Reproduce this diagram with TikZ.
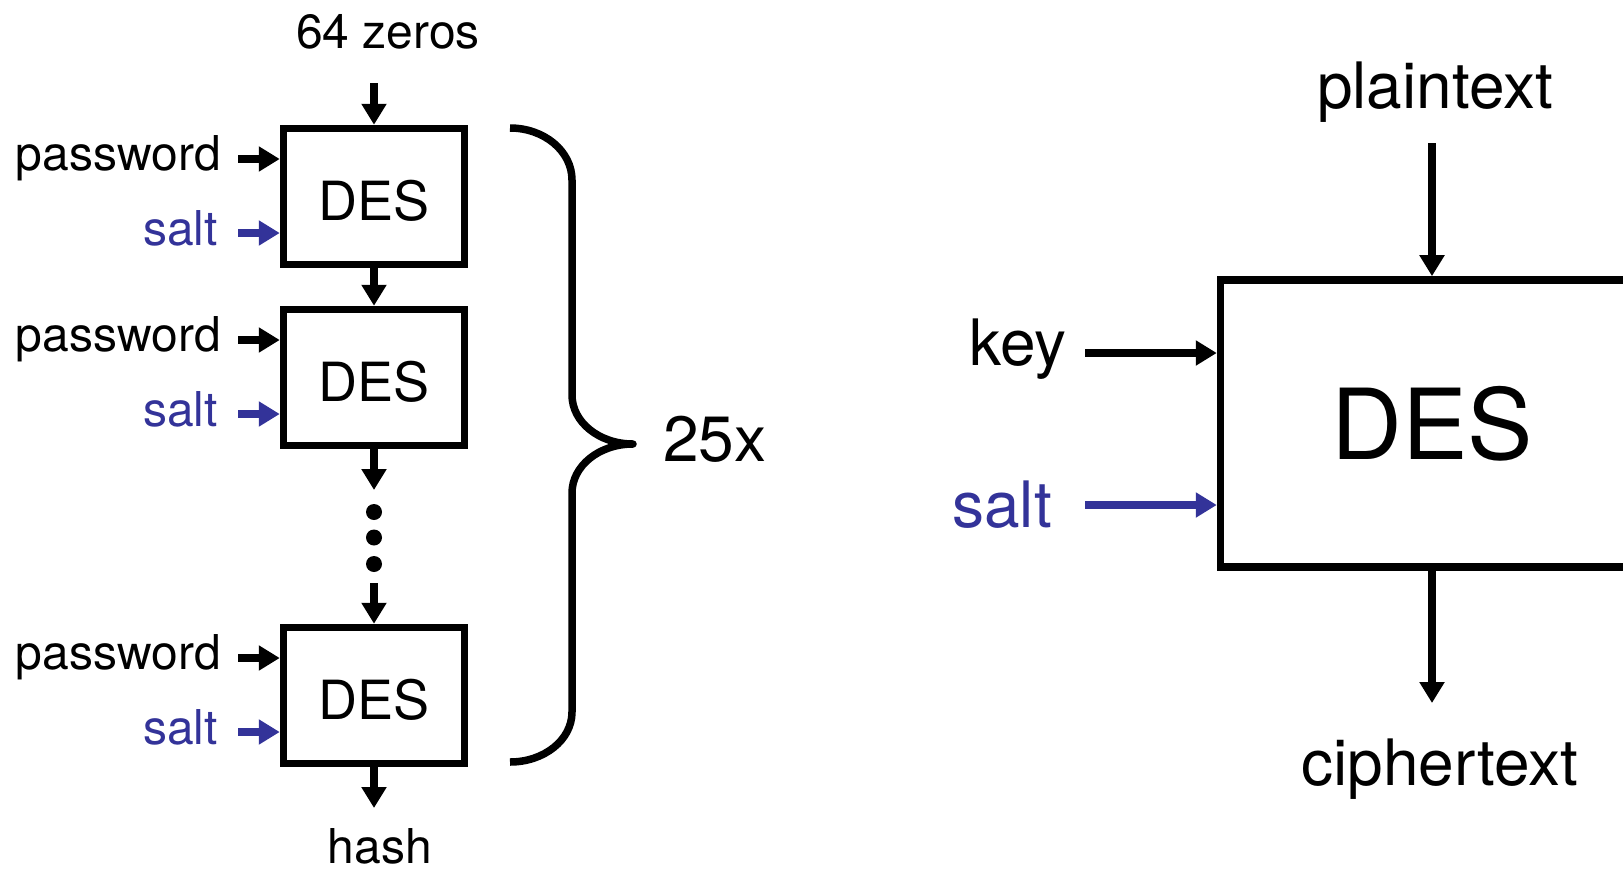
\documentclass[tikz,border=0pt]{standalone}
\usepackage{fontspec}
\setmainfont{TeX Gyre Heros}
\usetikzlibrary{arrows.meta}
\definecolor{saltblue}{RGB}{51,51,153}
\begin{document}
\begin{tikzpicture}[x=1pt,y=-1pt,
  desbox/.style={draw,line width=7.5pt,inner sep=0pt,minimum width=181pt,minimum height=136pt,
    font=\fontsize{54}{60}\selectfont,text height=49pt},
  bigbox/.style={draw,line width=7.5pt,inner sep=0pt,minimum width=423pt,minimum height=287pt,
    font=\fontsize{98}{110}\selectfont},
  lbl/.style={inner sep=0pt,font=\fontsize{48}{56}\selectfont},
  biglbl/.style={inner sep=0pt,font=\fontsize{64}{72}\selectfont},
  saltcol/.style={text=saltblue},
  arr/.style={line width=7.5pt,-{Triangle[length=21pt,width=24pt]}},
  saltarr/.style={arr,draw=saltblue},
  dotnode/.style={circle,fill=black,inner sep=0pt,minimum size=16pt},
]
\useasboundingbox (0,0) rectangle (1623,868);
\clip (0,0) rectangle (1623,868);

% left chain
\node[desbox] (b1) at (374,196.5) {DES};
\node[desbox] (b2) at (374,377.5) {DES};
\node[desbox] (b3) at (374,695.5) {DES};

\foreach \i/\d in {1/0,2/181,3/499}{
  \node[lbl,anchor=base east] (p\i) at (221,170+\d) {password};
  \coordinate (p\i a) at (238,159+\d);
  \draw[arr] (p\i a) -- (p\i a -| b\i.west);
  \node[lbl,saltcol,anchor=base east] (s\i) at (218,245+\d) {salt};
  \coordinate (s\i a) at (238,233+\d);
  \draw[saltarr] (s\i a) -- (s\i a -| b\i.west);
}

\node[lbl,anchor=base] (zeros) at (388,48) {64 zeros};
\coordinate (z0) at (374,83);
\draw[arr] (z0) -- (b1.north);
\draw[arr] (b1.south) -- (b2.north);
\coordinate (d0) at (374,490);
\draw[arr] (b2.south) -- (d0);
\node[dotnode] (dt1) at (374,512) {};
\node[dotnode] (dt2) at (374,537.5) {};
\node[dotnode] (dt3) at (374,564) {};
\coordinate (d1) at (374,583);
\draw[arr] (d1) -- (b3.north);
\coordinate (h0) at (374,808);
\draw[arr] (b3.south) -- (h0);
\node[lbl,anchor=base] (hash) at (380,863) {hash};

% brace
\draw[line width=7.5pt,line join=round,line cap=butt]
  (510,128) .. controls (544,128) and (572,151) .. (572,180)
  -- (572,395) .. controls (572,422) and (599,444) .. (633,444)
  .. controls (599,444) and (572,466) .. (572,493)
  -- (572,712) .. controls (572,740) and (544,762) .. (510,762);
\node[biglbl,anchor=base west] (n25) at (663,461) {25x};

% right
\node[bigbox] (big) at (1432,423.4) {DES};
\node[biglbl,anchor=base] (pt) at (1435,108) {plaintext};
\coordinate (pta) at (1432,143);
\draw[arr] (pta) -- (big.north);
\coordinate (cta) at (1432,703);
\draw[arr] (big.south) -- (cta);
\node[biglbl,anchor=base] (ct) at (1440,785) {ciphertext};
\node[biglbl,anchor=base east] (key) at (1067,365) {key};
\coordinate (ka) at (1085,353);
\draw[arr] (ka) -- (ka -| big.west);
\node[biglbl,saltcol,anchor=base east] (bs) at (1052,527) {salt};
\coordinate (sa) at (1085,505);
\draw[saltarr] (sa) -- (sa -| big.west);
\end{tikzpicture}
\end{document}
